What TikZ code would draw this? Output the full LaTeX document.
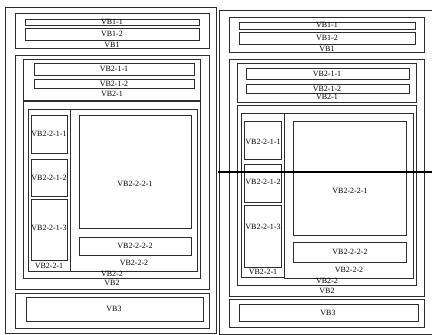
\documentclass[tikz,border=0pt]{standalone}
\usepackage{fontspec}
\setmainfont{Liberation Serif}
\usepackage{tikz}
\usetikzlibrary{positioning}
\definecolor{framegray}{RGB}{45,45,45}

\begin{document}
\begin{tikzpicture}[
  x=1pt, y=-1pt,
  frame/.style={draw=framegray, line width=1pt},
  lbl/.style={inner sep=0pt, font=\fontsize{8}{9}\selectfont, text=black},
  cutline/.style={draw=black, line width=1.6pt}
]
  \useasboundingbox (0,0) rectangle (432,335);

  % left layout
  \draw[frame] (5,7) rectangle (216,333);
  \draw[frame] (15,13) rectangle (209,48);
  \draw[frame] (25,19) rectangle (199,25);
  \draw[frame] (25,28) rectangle (199,40);
  \node[lbl] (l-vb11) at (112,22) {VB1-1};
  \node[lbl] (l-vb12) at (112,34) {VB1-2};
  \node[lbl] (l-vb1)  at (112,45) {VB1};

  \draw[frame] (15,55) rectangle (209,289);
  \draw[frame] (23,59) rectangle (200,100);
  \draw[frame] (34,63) rectangle (194,75);
  \draw[frame] (34,79) rectangle (194,88);
  \node[lbl] (l-vb211) at (114,69) {VB2-1-1};
  \node[lbl] (l-vb212) at (114,84) {VB2-1-2};
  \node[lbl] (l-vb21)  at (112,94) {VB2-1};

  \draw[frame] (23,101) rectangle (200,278);
  \draw[frame] (28,109) rectangle (70,271);
  \draw[frame] (31,115) rectangle (67,153);
  \draw[frame] (31,159) rectangle (67,196);
  \draw[frame] (31,199) rectangle (67,260);
  \node[lbl] (l-vb2211) at (49,134) {VB2-2-1-1};
  \node[lbl] (l-vb2212) at (49,178) {VB2-2-1-2};
  \node[lbl] (l-vb2213) at (49,228) {VB2-2-1-3};
  \node[lbl] (l-vb221)  at (49,266) {VB2-2-1};
  \draw[frame] (70,109) rectangle (197,271);
  \draw[frame] (79,115) rectangle (191,228);
  \draw[frame] (79,237) rectangle (191,255);
  \node[lbl] (l-vb2221) at (135,184) {VB2-2-2-1};
  \node[lbl] (l-vb2222) at (135,246) {VB2-2-2-2};
  \node[lbl] (l-vb222)  at (134,263) {VB2-2-2};
  \node[lbl] (l-vb22)   at (112,274) {VB2-2};
  \node[lbl] (l-vb2)    at (112,283) {VB2};

  \draw[frame] (15,293) rectangle (209,328);
  \draw[frame] (26,297) rectangle (203,321);
  \node[lbl] (l-vb3) at (114,309) {VB3};

  % right layout
  \draw[frame] (219,10) rectangle (440,334);
  \draw[frame] (229,17) rectangle (424,52);
  \draw[frame] (239,22) rectangle (415,29);
  \draw[frame] (239,32) rectangle (415,44);
  \node[lbl] (r-vb11) at (327,25) {VB1-1};
  \node[lbl] (r-vb12) at (327,38) {VB1-2};
  \node[lbl] (r-vb1)  at (327,49) {VB1};

  \draw[frame] (229,59) rectangle (424,296);
  \draw[frame] (237,63) rectangle (416,102);
  \draw[frame] (246,68) rectangle (409,79);
  \draw[frame] (246,84) rectangle (409,93);
  \node[lbl] (r-vb211) at (327,74) {VB2-1-1};
  \node[lbl] (r-vb212) at (327,89) {VB2-1-2};
  \node[lbl] (r-vb21)  at (327,97) {VB2-1};

  \draw[frame] (237,105) rectangle (416,285);
  \draw[frame] (241,113) rectangle (284,277);
  \draw[frame] (244,121) rectangle (281,159);
  \draw[frame] (244,164) rectangle (281,202);
  \draw[frame] (244,205) rectangle (281,267);
  \node[lbl] (r-vb2211) at (263,142) {VB2-2-1-1};
  \node[lbl] (r-vb2212) at (263,182) {VB2-2-1-2};
  \node[lbl] (r-vb2213) at (263,227) {VB2-2-1-3};
  \node[lbl] (r-vb221)  at (263,272) {VB2-2-1};
  \draw[frame] (284,113) rectangle (413,278);
  \draw[frame] (293,121) rectangle (406,235);
  \draw[frame] (293,242) rectangle (406,262);
  \node[lbl] (r-vb2221) at (350,191) {VB2-2-2-1};
  \node[lbl] (r-vb2222) at (350,252) {VB2-2-2-2};
  \node[lbl] (r-vb222)  at (349,270) {VB2-2-2};
  \node[lbl] (r-vb22)   at (327,281) {VB2-2};
  \node[lbl] (r-vb2)    at (327,291) {VB2};

  \draw[frame] (229,299) rectangle (424,327);
  \draw[frame] (239,304) rectangle (418,321);
  \node[lbl] (r-vb3) at (328,313) {VB3};

  % cut marker
  \coordinate (cutL) at (218,172);
  \coordinate (cutR) at (432,172);
  \draw[cutline] (cutL) -- (cutR);
\end{tikzpicture}
\end{document}
